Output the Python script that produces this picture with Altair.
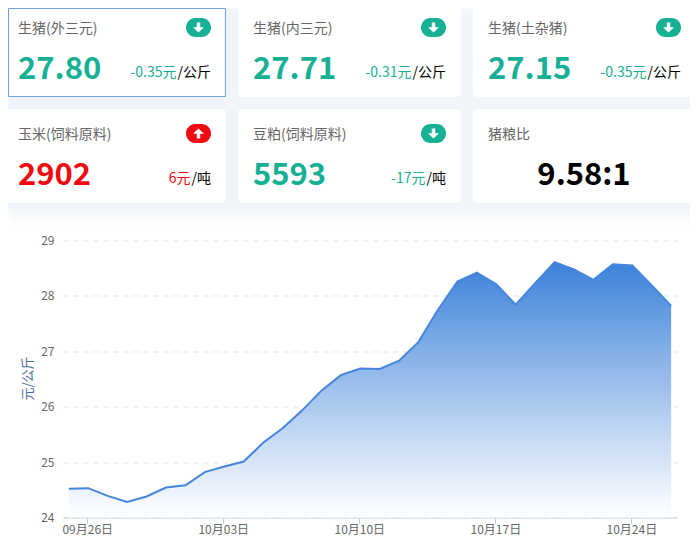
import altair as alt
import pandas as pd

FONT = "Noto Sans CJK SC"
GREEN = "#16b094"
RED = "#ee0a0f"

days = [f"09月{d:02d}日" for d in range(25, 31)] + [f"10月{d:02d}日" for d in range(1, 27)]
prices = [24.52, 24.53, 24.39, 24.28, 24.38, 24.54, 24.58, 24.82, 24.92, 25.01, 25.35,
          25.61, 25.93, 26.29, 26.57, 26.69, 26.68, 26.83, 27.17, 27.75, 28.26, 28.42,
          28.21, 27.84, 28.23, 28.61, 28.48, 28.29, 28.57, 28.55, 28.19, 27.82]
tick_days = ["09月26日", "10月03日", "10月10日", "10月17日", "10月24日"]
y_ticks = [24, 25, 26, 27, 28, 29]

card_titles = ["生猪(外三元)", "生猪(内三元)", "生猪(土杂猪)", "玉米(饲料原料)", "豆粕(饲料原料)", "猪粮比"]
card_values = ["27.80", "27.71", "27.15", "2902", "5593", "9.58:1"]
card_deltas = ["-0.35元", "-0.31元", "-0.35元", "6元", "-17元", ""]
card_units = ["/公斤", "/公斤", "/公斤", "/吨", "/吨", ""]
halo_colors = ["#fdfdfe", "#fbfcfd", "#f9fafc", "#f7f9fb", "#f5f7fb", "#f3f5fa", "#f1f4f9"]
halo_sizes = [20, 17, 14, 12, 10, 8, 6]

# plot-area origin in page pixels
OX, OY = 63, 240.5
PW, PH = 614, 277
one = alt.Data(values=[{"a": 1}])


def px(v):
    return alt.value(v - OX)


def py(v):
    return alt.value(v - OY)


def box(x0, y0, x1, y1, **kw):
    return alt.Chart(one).mark_rect(**kw).encode(x=px(x0), x2=px(x1), y=py(y0), y2=py(y1))


def label(x, y, text, **kw):
    return alt.Chart(one).mark_text(font=FONT, text=text, **kw).encode(x=px(x), y=py(y))


layers = []
positions = []
for i in range(6):
    col, row = i % 3, i // 3
    positions.append((3 + 235 * col, 3 + 106 * row))

# soft card shadows, outermost first
for k, shade in zip(halo_sizes, halo_colors):
    for (cx, cy) in positions:
        layers.append(box(max(cx - k, 8), max(cy - k, 8), min(cx + 223 + k, 698), cy + 94 + k + 2,
                          color=shade, cornerRadius=10))

for i, (cx, cy) in enumerate(positions):
    if i == 0:
        layers.append(box(8.5, 8.5, 225.5, 96.5, color="white", stroke="#6fa3e8", strokeWidth=1))
    else:
        layers.append(box(cx, cy, cx + 223, cy + 94, color="white", cornerRadius=5))

for i, (cx, cy) in enumerate(positions):
    tone = RED if card_deltas[i][:1].isdigit() else GREEN
    layers.append(label(cx + 15, cy + 30, card_titles[i], fontSize=14, color="#666666",
                        align="left", baseline="alphabetic"))
    if i == 5:
        layers.append(label(cx + 111, cy + 76, card_values[i], fontSize=31, fontWeight="bold",
                            color="#000000", align="center", baseline="alphabetic"))
        continue
    layers.append(label(cx + 15, cy + 76, card_values[i], fontSize=31, fontWeight="bold",
                        color=tone, align="left", baseline="alphabetic"))
    unit_w = 34.5 if len(card_units[i]) == 3 else 20.5
    layers.append(label(cx + 208, cy + 74, card_units[i], fontSize=14, color="#000000",
                        align="right", baseline="alphabetic"))
    layers.append(label(cx + 208 - unit_w, cy + 74, card_deltas[i], fontSize=14, color=tone,
                        align="right", baseline="alphabetic"))
    layers.append(box(cx + 183, cy + 15, cx + 208, cy + 34, color=tone, cornerRadius=9.5))
    up = "M-0.35,1 L0.35,1 L0.35,0.05 L1.1,0.05 L0,-1 L-1.1,0.05 L-0.35,0.05 Z"
    down = "M-0.35,-1 L0.35,-1 L0.35,-0.05 L1.1,-0.05 L0,1 L-1.1,-0.05 L-0.35,-0.05 Z"
    layers.append(alt.Chart(one).mark_point(shape=up if tone == RED else down, filled=True,
                                            color="white", opacity=1, size=100)
                  .encode(x=px(cx + 195.5), y=py(cy + 24.5)))

df = pd.DataFrame({"day": days, "price": prices})
x = alt.X("day:O", sort=days, title=None,
          scale=alt.Scale(type="point", padding=0.3),
          axis=alt.Axis(values=tick_days, labelAngle=0, labelFont=FONT, labelFontSize=12,
                        labelColor="#666666", labelPadding=1, tickSize=6, tickColor="#c4d0e0",
                        domainColor="#c4d0e0", domainWidth=1, tickOffset=-1, grid=False))
y = alt.Y("price:Q", title="元/公斤",
          scale=alt.Scale(domain=[24, 29], nice=False, zero=False),
          axis=alt.Axis(values=y_ticks, format="d", labelFont=FONT, labelFontSize=12,
                        labelColor="#666666", labelPadding=9, tickSize=0, domain=False,
                        grid=True, gridColor="#e4dfe0", gridDash=[5, 5], gridWidth=1,
                        titleFont=FONT, titleFontSize=13, titleFontWeight="normal",
                        titleColor="#46699c", titleX=-29, titleY=137.5))
gradient = alt.Gradient(gradient="linear", x1=0, x2=0, y1=1, y2=0, stops=[
    alt.GradientStop(color="rgba(255,255,255,0.9)", offset=0),
    alt.GradientStop(color="rgba(52,125,216,0.97)", offset=1),
])
layers.append(alt.Chart(df).mark_area(color=gradient, line=False)
              .encode(x=x, y=y, y2=alt.Y2Datum(24)))
layers.append(alt.Chart(df).mark_line(color="#4485de", strokeWidth=2).encode(x=x, y=y))

chart = alt.layer(*layers).properties(
    width=PW, height=PH, autosize="none",
    padding={"left": 55, "top": 232.5, "right": 13, "bottom": 25},
).configure_view(stroke=None)

chart.save("out.html", embed_options={"renderer": "svg", "actions": False})
